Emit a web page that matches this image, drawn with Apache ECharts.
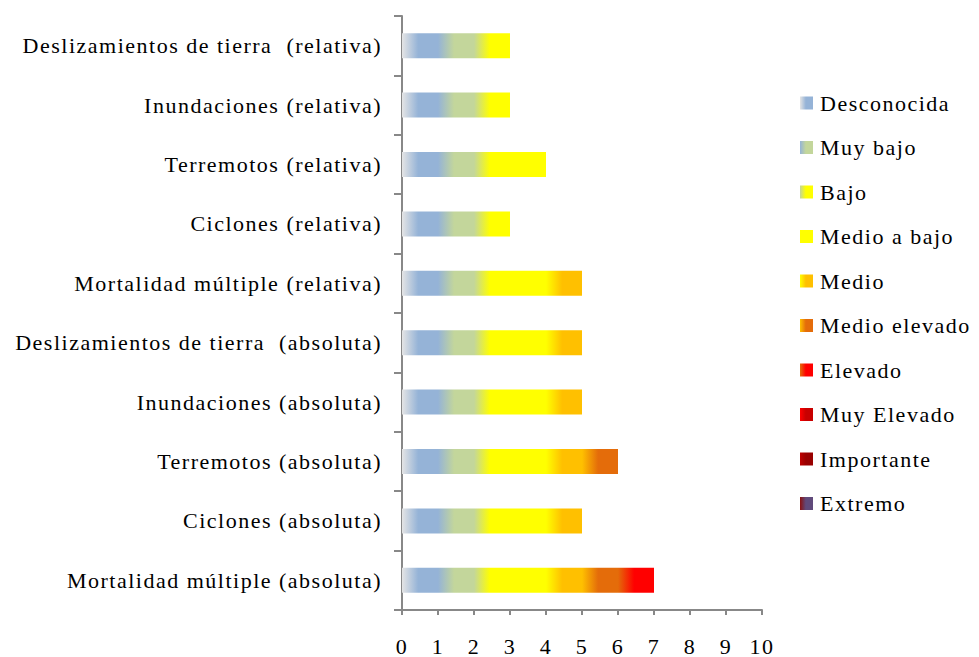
<!DOCTYPE html>
<html><head><meta charset="utf-8">
<script src="https://cdn.jsdelivr.net/npm/echarts@6/dist/echarts.min.js"></script>
<style>html,body{margin:0;padding:0;background:#fff}#c{width:979px;height:657px}#c text{letter-spacing:1.5px}</style>
</head><body><div id="c"></div>
<script>
// categories listed bottom to top
var categories = ['Mortalidad múltiple (absoluta)','Ciclones (absoluta)','Terremotos (absoluta)','Inundaciones (absoluta)','Deslizamientos de tierra  (absoluta)','Mortalidad múltiple (relativa)','Ciclones (relativa)','Terremotos (relativa)','Inundaciones (relativa)','Deslizamientos de tierra  (relativa)'];
var seriesNames = ['Desconocida','Muy bajo','Bajo','Medio a bajo','Medio','Medio elevado','Elevado','Muy Elevado','Importante','Extremo'];
var desconocida = [1,1,1,1,1,1,1,1,1,1];
var muyBajo     = [1,1,1,1,1,1,1,1,1,1];
var bajo        = [1,1,1,1,1,1,1,1,1,1];
var medioABajo  = [1,1,1,1,1,1,0,1,0,0];
var medio       = [1,1,1,1,1,1,0,0,0,0];
var medioElevado= [1,0,1,0,0,0,0,0,0,0];
var elevado     = [1,0,0,0,0,0,0,0,0,0];
var muyElevado  = [0,0,0,0,0,0,0,0,0,0];
var importante  = [0,0,0,0,0,0,0,0,0,0];
var extremo     = [0,0,0,0,0,0,0,0,0,0];
var xTicks = [0,1,2,3,4,5,6,7,8,9,10];

var values = [desconocida,muyBajo,bajo,medioABajo,medio,medioElevado,elevado,muyElevado,importante,extremo];
var fromColors = ['#e4e4e4','#95b3d7','#c3d69b','#ffff00','#ffff00','#ffc000','#e46c0a','#ff0000','#c00000','#8b1010'];
var toColors   = ['#95b3d7','#c3d69b','#ffff00','#ffff00','#ffc000','#e46c0a','#ff0000','#c80000','#990000','#604a7b'];

var font = '"Liberation Serif","Times New Roman",serif';
var series = seriesNames.map(function(n,i){
  return {
    name:n, type:'bar', stack:'t', barWidth:25,
    data: values[i],
    itemStyle:{color:{type:'linear',x:0,y:0,x2:1,y2:0,colorStops:[
      {offset:0,color:fromColors[i]},{offset:0.45,color:toColors[i]},{offset:1,color:toColors[i]}]}}
  };
});
var chart = echarts.init(document.getElementById('c'), null, {renderer:'svg'});
chart.setOption({
  animation:false,
  grid:{left:402,right:217,top:16,bottom:45,containLabel:false},
  legend:{orient:'vertical',left:795,top:87,itemWidth:13,itemHeight:13,itemGap:22.5,
    icon:'rect',
    textStyle:{fontFamily:font,fontSize:22,color:'#000',lineHeight:22,padding:[0,0,0,2]},
    data:seriesNames},
  xAxis:{type:'value',min:0,max:10,interval:1,
    axisLine:{show:true,lineStyle:{color:'#888',width:2}},
    axisTick:{show:true,length:5,lineStyle:{color:'#888',width:2}},
    splitLine:{show:false},
    axisLabel:{fontFamily:font,fontSize:22,color:'#000',margin:25,
      formatter:function(v){return xTicks.indexOf(v)>=0?String(v):'';}}},
  yAxis:{type:'category',data:categories,
    axisLine:{show:true,lineStyle:{color:'#888',width:2}},
    axisTick:{show:true,length:8,lineStyle:{color:'#888',width:2}},
    axisLabel:{fontFamily:font,fontSize:22,color:'#000',margin:20}},
  series:series
});
</script></body></html>
